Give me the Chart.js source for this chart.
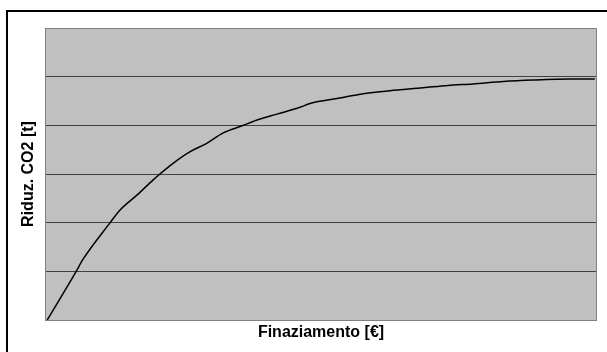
<!DOCTYPE html>
<html>
<head>
<meta charset="utf-8">
<script src="https://cdn.jsdelivr.net/npm/chart.js@4/dist/chart.umd.min.js"></script>
<style>
  html, body { margin: 0; padding: 0; background: #fff; overflow: hidden; }
  #wrap { width: 607px; height: 352px; position: relative; }
</style>
</head>
<body>
<div id="wrap"><canvas id="co2-chart"></canvas></div>
<script>
// finanziamento (x) vs riduzione CO2 (y)
let finanziamento = [0.4, 5.6, 6.9, 11.8, 13.6, 16.7, 19.6, 20.5, 23.2, 26.3, 29.3, 32.2, 35.7, 38.4, 42.0, 46.2, 48.0, 53.4, 57.1, 62.5, 68.5, 73.0, 77.5, 83.0, 88.4, 95.1, 99.6];
let riduzioneCO2 = [0, 0.99, 1.25, 2.0, 2.26, 2.57, 2.88, 2.97, 3.22, 3.46, 3.63, 3.84, 3.99, 4.11, 4.23, 4.37, 4.45, 4.56, 4.64, 4.71, 4.77, 4.82, 4.85, 4.90, 4.93, 4.95, 4.95];
let xRange = [0, 100];
let yRange = [0, 6];

let fontFamily = '"Liberation Sans", Arial, sans-serif';

let points = finanziamento.map(function (x, i) { return { x: x, y: riduzioneCO2[i] }; });

// grey plot area + frame round the whole chart
const frame = {
  id: 'frame',
  beforeDraw(chart) {
    const ctx = chart.ctx, a = chart.chartArea;
    ctx.save();
    ctx.fillStyle = '#c0c0c0';
    ctx.fillRect(a.left, a.top, a.right - a.left, a.bottom - a.top);
    ctx.restore();
  },
  afterDraw(chart) {
    const ctx = chart.ctx, a = chart.chartArea;
    ctx.save();
    ctx.strokeStyle = '#808080';
    ctx.lineWidth = 1;
    ctx.strokeRect(a.left + 0.5, a.top + 0.5, a.right - a.left - 1, a.bottom - a.top);
    ctx.strokeStyle = '#000';
    ctx.lineWidth = 2;
    ctx.strokeRect(7, 11, 605, 360);
    ctx.restore();
  }
};

new Chart(document.getElementById('co2-chart'), {
  type: 'line',
  data: {
    datasets: [{
      data: points,
      borderColor: '#000',
      borderWidth: 1.5,
      pointRadius: 0,
      cubicInterpolationMode: 'monotone',
      fill: false
    }]
  },
  options: {
    responsive: true,
    maintainAspectRatio: false,
    animation: false,
    layout: { padding: { top: 28, right: 10, bottom: 0, left: 0 } },
    plugins: { legend: { display: false }, tooltip: { enabled: false } },
    scales: {
      x: {
        type: 'linear',
        min: xRange[0],
        max: xRange[1],
        ticks: { display: false },
        grid: { display: false, drawTicks: false },
        border: { display: false },
        title: {
          display: true,
          text: 'Finaziamento [€]',
          color: '#000',
          font: { family: fontFamily, size: 16, weight: 'bold' },
          padding: { top: 0, bottom: 10 }
        },
        afterFit(scale) { scale.height = 32; }
      },
      y: {
        min: yRange[0],
        max: yRange[1],
        ticks: { display: false, stepSize: 1 },
        grid: {
          drawTicks: false,
          color(ctx) {
            let v = ctx.tick && ctx.tick.value;
            return (v === yRange[0] || v === yRange[1]) ? 'rgba(0,0,0,0)' : '#404040';
          },
          lineWidth: 1
        },
        border: { display: false },
        title: {
          display: true,
          text: 'Riduz. CO2 [t]',
          color: '#000',
          font: { family: fontFamily, size: 16, weight: 'bold' },
          padding: { top: 19, bottom: 0 }
        },
        afterFit(scale) { scale.width = 45; }
      }
    }
  },
  plugins: [frame]
});
</script>
</body>
</html>
